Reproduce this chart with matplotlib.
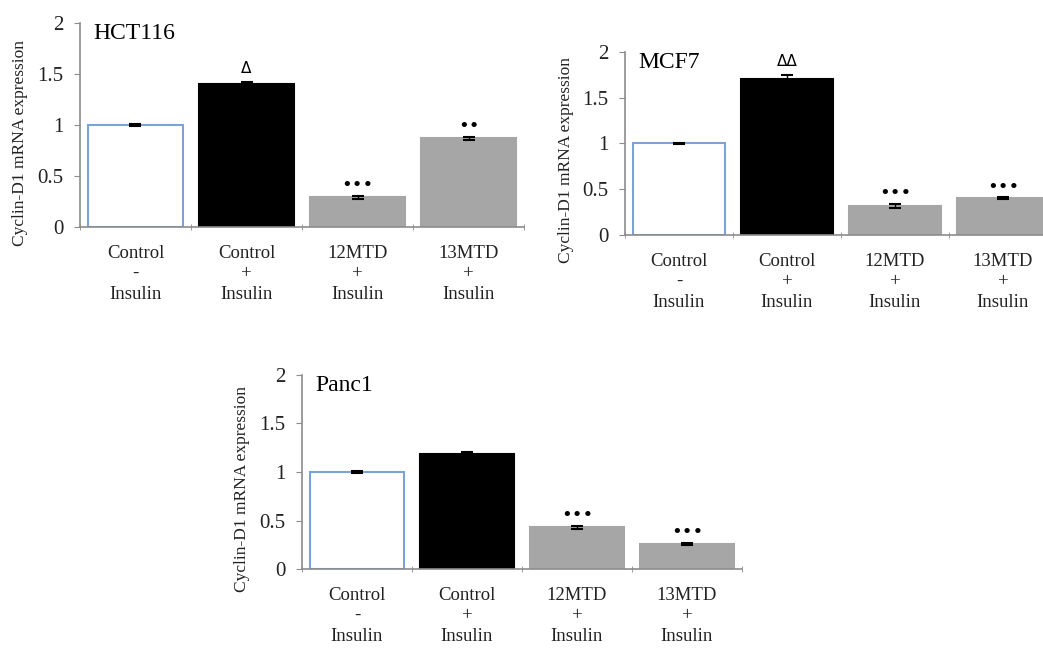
import numpy as np
import matplotlib.pyplot as plt

# data
groups = ['Control\n-\nInsulin', 'Control\n+\nInsulin', '12MTD\n+\nInsulin', '13MTD\n+\nInsulin']
hct116 = [1.0, 1.40, 0.29, 0.87]
hct116_err = [0.01, 0.02, 0.015, 0.015]
hct116_marks = ['', 'Δ', '•••', '••']
mcf7 = [1.0, 1.71, 0.32, 0.40]
mcf7_err = [0.01, 0.04, 0.02, 0.01]
mcf7_marks = ['', 'ΔΔ', '•••', '•••']
panc1 = [1.0, 1.19, 0.43, 0.26]
panc1_err = [0.01, 0.02, 0.015, 0.01]
panc1_marks = ['', '', '•••', '•••']

plt.rcParams['font.family'] = ['Liberation Serif', 'DejaVu Serif']

face = ['white', 'black', '#a6a6a6', '#a6a6a6']
edge = ['#7ba3d8', 'black', '#a6a6a6', '#a6a6a6']
spine_col = '#8c8c8c'

fig = plt.figure(figsize=(10.43, 6.5), dpi=100)


def panel(rect, vals, errs, marks, name):
    ax = fig.add_axes(rect)
    x = np.arange(len(vals))
    ax.bar(x, vals, width=0.86, color=face, edgecolor=edge, linewidth=1.5,
           yerr=errs, error_kw=dict(ecolor='black', elinewidth=1, capsize=4, capthick=1.5))
    for xi, v, e, m in zip(x, vals, errs, marks):
        if m:
            dots = m.startswith('•')
            ax.text(xi, v + e + (0.015 if dots else 0.06), m, ha='center', va='bottom',
                    fontsize=13 if dots else 11, family=['DejaVu Sans'], color='black')
    ax.set_xlim(-0.5, len(vals) - 0.5)
    ax.set_ylim(0, 2)
    ax.set_yticks([0, 0.5, 1, 1.5, 2])
    ax.set_yticklabels(['0', '0.5', '1', '1.5', '2'], fontsize=15, color='#222222')
    ax.set_xticks(x)
    ax.set_xticklabels(groups, fontsize=13.5, linespacing=1.25, color='#222222')
    ax.set_xticks(np.arange(len(vals) + 1) - 0.5, minor=True)
    ax.tick_params(axis='x', which='major', length=0, pad=13)
    ax.tick_params(axis='x', which='minor', length=5, color=spine_col, direction='inout')
    ax.tick_params(axis='y', length=4, color=spine_col, pad=8)
    for s in ['top', 'right']:
        ax.spines[s].set_visible(False)
    for s in ['left', 'bottom']:
        ax.spines[s].set_color(spine_col)
        ax.spines[s].set_linewidth(1.2)
    ax.set_ylabel('Cyclin-D1 mRNA expression', fontsize=12.5, color='#222222')
    ax.yaxis.set_label_coords(-0.118, 0.41)
    ax.text(0.03, 1.0, name, transform=ax.transAxes, ha='left', va='top', fontsize=17)
    return ax


panel([0.0767, 0.6508, 0.4257, 0.3138], hct116, hct116_err, hct116_marks, 'HCT116')
panel([0.5992, 0.6385, 0.4142, 0.2815], mcf7, mcf7_err, mcf7_marks, 'MCF7')
panel([0.2895, 0.1246, 0.4219, 0.2985], panc1, panc1_err, panc1_marks, 'Panc1')

fig.savefig('out.png', dpi=100)
